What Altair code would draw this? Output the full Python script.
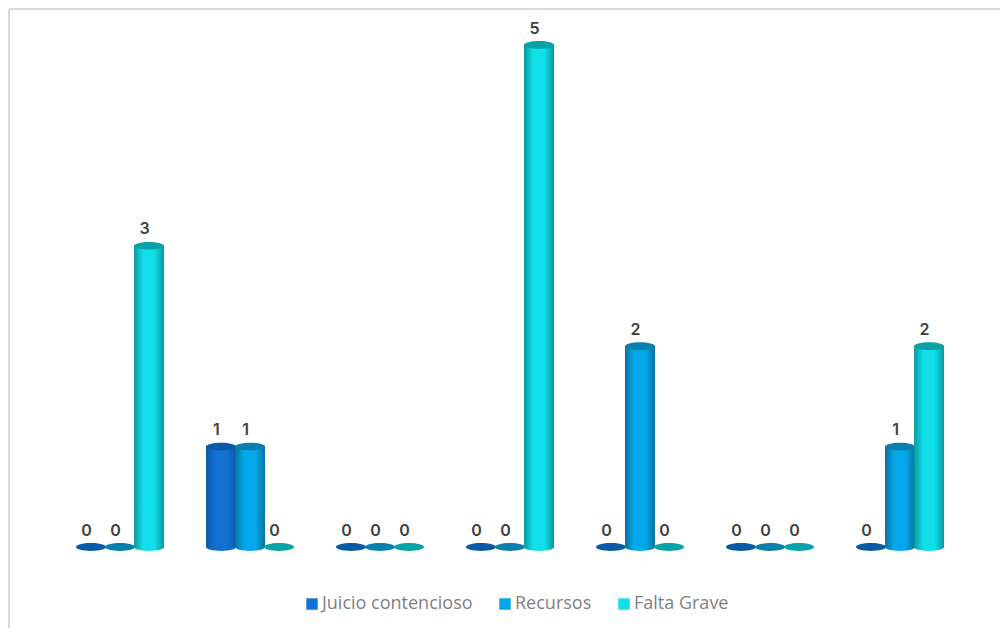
import altair as alt
import pandas as pd

categories = ["1", "2", "3", "4", "5", "6", "7"]
series_names = ["Juicio contencioso", "Recursos", "Falta Grave"]
juicio = [0, 1, 0, 0, 0, 0, 0]
recursos = [0, 1, 0, 0, 2, 0, 1]
falta = [3, 0, 0, 5, 0, 0, 2]
legend_colors = ["#1272d2", "#04a8ea", "#10dfe9"]
edge_colors = ["#0b5aa8", "#06729f", "#07999f"]
cap_colors = ["#0b5aa5", "#0880ab", "#08a3a9"]

rows = []
for name, vals in zip(series_names, [juicio, recursos, falta]):
    for c, v in zip(categories, vals):
        rows.append({"cat": c, "serie": name, "valor": v})
df = pd.DataFrame(rows)

x = alt.X("cat:N", axis=None, sort=categories,
          scale=alt.Scale(paddingInner=0.33, paddingOuter=0.165))
y = alt.Y("valor:Q", axis=None, scale=alt.Scale(domain=[0, 5], nice=False, zero=True))
xo = alt.XOffset("serie:N", sort=series_names, scale=alt.Scale(domain=series_names, paddingInner=0, paddingOuter=0))

ELLIPSE = "M-1,0 A1,0.26 0 1,0 1,0 A1,0.26 0 1,0 -1,0 Z"
SIZE = 900

layers = []
# border of the chart area
one = pd.DataFrame({"a": [0]})
border = "#d9d9d9"
layers.append(alt.Chart(one).mark_rule(color=border, strokeWidth=2).encode(
    x=alt.value(-46), x2=alt.value(945), y=alt.value(-36)))
layers.append(alt.Chart(one).mark_rule(color=border, strokeWidth=2).encode(
    x=alt.value(-46), y=alt.value(-36), y2=alt.value(583)))

for name, edge, mid, cap in zip(series_names, edge_colors, legend_colors, cap_colors):
    grad = alt.LinearGradient(
        gradient="linear", x1=0, x2=1, y1=0, y2=0,
        stops=[alt.GradientStop(offset=0, color=edge),
               alt.GradientStop(offset=0.3, color=mid),
               alt.GradientStop(offset=0.68, color=mid),
               alt.GradientStop(offset=1, color=edge)])
    base = alt.Chart(df).transform_filter(alt.datum.serie == name)
    pos = base.transform_filter(alt.datum.valor > 0)
    layers.append(pos.mark_point(filled=True, shape=ELLIPSE, size=SIZE, opacity=1, color=grad).encode(
        x=x, xOffset=xo, y=alt.Y("base:Q", axis=None)).transform_calculate(base="0"))
    layers.append(pos.mark_bar(size=30, color=grad).encode(x=x, xOffset=xo, y=y))
    layers.append(base.mark_point(filled=True, shape=ELLIPSE, size=SIZE, opacity=1, color=cap).encode(
        x=x, xOffset=xo, y=y))
    layers.append(base.mark_text(dy=-16.5, dx=-4.5, font="Inter", fontSize=16, fontWeight=600, color="#404040").encode(
        x=x, xOffset=xo, y=y, text="valor:Q"))

legend_layer = alt.Chart(df).mark_point(filled=True, opacity=0, size=1).encode(
    x=x, xOffset=xo, y=y,
    color=alt.Color("serie:N", sort=series_names,
        scale=alt.Scale(domain=series_names, range=legend_colors),
        legend=alt.Legend(title=None, orient="none", direction="horizontal",
                          legendX=248, legendY=550,
                          symbolType="square", symbolSize=130, symbolOpacity=1,
                          symbolStrokeWidth=0, labelFont="Open Sans", labelFontSize=18,
                          labelColor="#7f7f7f", columnPadding=23, labelOffset=1,
                          labelLimit=300)))
layers.append(legend_layer)

chart = alt.layer(*layers).resolve_scale(y="shared").properties(
    width=910, height=502,
    padding={"left": 47, "top": 37, "right": 35, "bottom": 81},
    autosize=alt.AutoSizeParams(type="none"),
    background="white",
).configure_view(stroke=None)

chart.save("out.html", embed_options={"renderer": "svg", "actions": False})
